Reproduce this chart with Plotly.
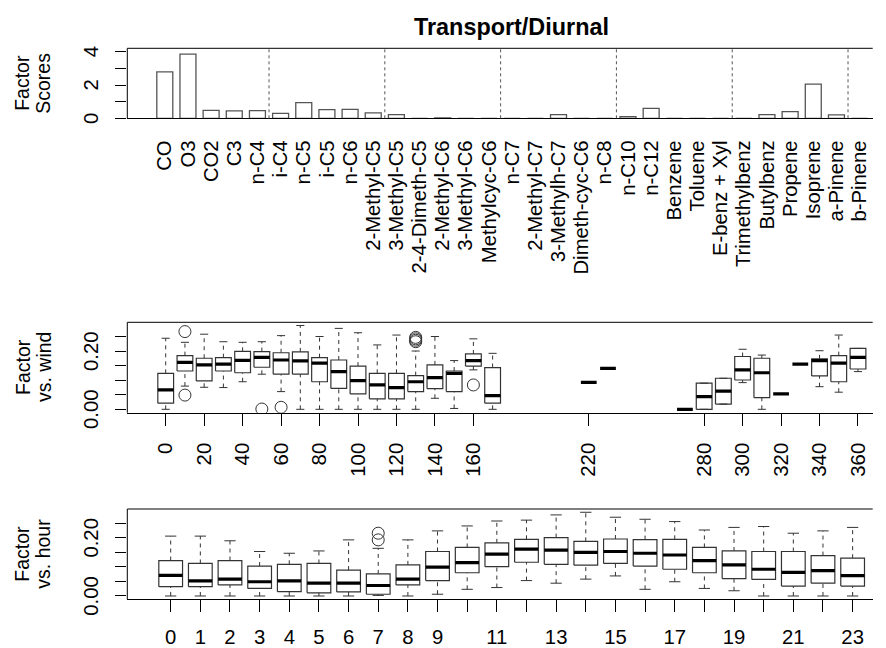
import plotly.graph_objects as go

FONT = "Liberation Sans, Arial, sans-serif"
FS = 19.5
TICK_FS = 20.3

# ---------------- factor scores per species ----------------
species = ["CO", "O3", "CO2", "C3", "n-C4", "i-C4", "n-C5", "i-C5", "n-C6",
           "2-Methyl-C5", "3-Methyl-C5", "2-4-Dimeth-C5", "2-Methyl-C6",
           "3-Methyl-C6", "Methylcyc-C6", "n-C7", "2-Methyl-C7", "3-Methylh-C7",
           "Dimeth-cyc-C6", "n-C8", "n-C10", "n-C12", "Benzene", "Toluene",
           "E-benz + Xyl", "Trimethylbenz", "Butylbenz", "Propene", "Isoprene",
           "a-Pinene", "b-Pinene"]
factor_scores = [2.79, 3.86, 0.48, 0.44, 0.46, 0.30, 0.94, 0.52, 0.54, 0.32,
                 0.22, 0.00, 0.03, 0.00, 0.00, 0.00, 0.00, 0.22, 0.00, 0.00,
                 0.10, 0.60, 0.00, 0.00, 0.00, 0.00, 0.22, 0.40, 2.05, 0.20,
                 0.00]
group_sizes = [5, 5, 5, 5, 5, 5, 1]

# ---------------- factor vs. wind direction ----------------
wind_dir = [0, 10, 20, 30, 40, 50, 60, 70, 80, 90, 100, 110, 120, 130, 140,
            150, 160, 170, 220, 230, 270, 280, 290, 300, 310, 320, 330, 340,
            350, 360]
wind_low = [0.000, 0.080, 0.076, 0.075, 0.095, 0.121, 0.061, 0.000, 0.000,
            0.000, 0.000, 0.000, 0.000, 0.000, 0.038, 0.003, 0.136, 0.000,
            0.093, 0.141, 0.000, 0.000, 0.018, 0.092, 0.000, 0.053, 0.156,
            0.078, 0.059, 0.130]
wind_q1 = [0.021, 0.132, 0.098, 0.132, 0.126, 0.145, 0.121, 0.121, 0.095,
           0.072, 0.053, 0.036, 0.036, 0.061, 0.071, 0.061, 0.149, 0.021,
           0.093, 0.141, 0.000, 0.000, 0.018, 0.101, 0.040, 0.053, 0.156,
           0.115, 0.095, 0.139]
wind_med = [0.067, 0.162, 0.153, 0.156, 0.169, 0.179, 0.170, 0.167, 0.159,
            0.130, 0.099, 0.084, 0.075, 0.095, 0.109, 0.124, 0.168, 0.047,
            0.093, 0.141, 0.000, 0.044, 0.063, 0.136, 0.126, 0.053, 0.156,
            0.168, 0.159, 0.179]
wind_q3 = [0.124, 0.185, 0.176, 0.178, 0.200, 0.199, 0.195, 0.198, 0.178,
           0.170, 0.149, 0.124, 0.124, 0.116, 0.153, 0.132, 0.191, 0.144,
           0.093, 0.141, 0.000, 0.090, 0.107, 0.182, 0.176, 0.053, 0.156,
           0.174, 0.185, 0.210]
wind_high = [0.245, 0.231, 0.259, 0.233, 0.231, 0.233, 0.254, 0.289, 0.251,
             0.279, 0.264, 0.222, 0.256, 0.201, 0.251, 0.168, 0.243, 0.193,
             0.093, 0.141, 0.000, 0.090, 0.107, 0.207, 0.187, 0.053, 0.156,
             0.202, 0.256, 0.210]
wind_out_dir = [10, 10, 50, 60, 130, 130, 130, 130, 160]
wind_out_val = [0.268, 0.049, 0.001, 0.007, 0.233, 0.238, 0.243, 0.248, 0.084]

# ---------------- factor vs. hour of day ----------------
hours = list(range(24))
hour_low = [0.000, 0.000, 0.000, 0.000, 0.000, 0.000, 0.000, 0.002, 0.000,
            0.006, 0.023, 0.029, 0.053, 0.044, 0.058, 0.069, 0.023, 0.049,
            0.026, 0.018, 0.000, 0.000, 0.000, 0.000]
hour_q1 = [0.032, 0.032, 0.038, 0.026, 0.015, 0.011, 0.014, 0.006, 0.038,
           0.053, 0.080, 0.101, 0.116, 0.109, 0.106, 0.112, 0.103, 0.092,
           0.080, 0.060, 0.057, 0.034, 0.044, 0.034]
hour_med = [0.071, 0.052, 0.058, 0.049, 0.052, 0.044, 0.044, 0.036, 0.058,
            0.099, 0.115, 0.144, 0.161, 0.158, 0.150, 0.153, 0.147, 0.141,
            0.122, 0.107, 0.092, 0.081, 0.087, 0.070]
hour_q3 = [0.122, 0.112, 0.122, 0.103, 0.109, 0.112, 0.089, 0.076, 0.107,
           0.153, 0.167, 0.183, 0.195, 0.201, 0.188, 0.196, 0.194, 0.195,
           0.167, 0.155, 0.153, 0.153, 0.139, 0.130]
hour_high = [0.206, 0.206, 0.190, 0.153, 0.147, 0.155, 0.193, 0.164, 0.193,
             0.224, 0.241, 0.258, 0.261, 0.279, 0.288, 0.271, 0.264, 0.256,
             0.227, 0.236, 0.239, 0.216, 0.224, 0.236]
hour_out_x = [7, 7]
hour_out_val = [0.193, 0.216]
hour_labels = [str(h) if (h < 10 or h % 2 == 1) else "" for h in hours]

BOX_COL = "#333333"


def box_traces(pos, low, q1, med, q3, high, half, cap, xa, ya):
    """R-style boxplot drawn from summary statistics."""
    bx, by, mx, my, wx, wy, cx, cy = [], [], [], [], [], [], [], []
    for p, lo, a, m, b, hi in zip(pos, low, q1, med, q3, high):
        if b > a:
            bx += [p - half, p + half, p + half, p - half, p - half, None]
            by += [a, a, b, b, a, None]
        mx += [p - half, p + half, None]
        my += [m, m, None]
        if hi > b:
            wx += [p, p, None]
            wy += [b, hi, None]
        if lo < a:
            wx += [p, p, None]
            wy += [lo, a, None]
        if b > a:
            cx += [p - cap, p + cap, None, p - cap, p + cap, None]
            cy += [hi, hi, None, lo, lo, None]
    common = dict(xaxis=xa, yaxis=ya, mode="lines", showlegend=False,
                  hoverinfo="skip")
    return [
        go.Scatter(x=wx, y=wy, line=dict(color=BOX_COL, width=1, dash="4px,4px"), **common),
        go.Scatter(x=cx, y=cy, line=dict(color=BOX_COL, width=1), **common),
        go.Scatter(x=bx, y=by, line=dict(color=BOX_COL, width=1.2), **common),
        go.Scatter(x=mx, y=my, line=dict(color="black", width=3.2), **common),
    ]


def outlier_trace(x, y, xa, ya):
    return go.Scatter(x=x, y=y, xaxis=xa, yaxis=ya, mode="markers",
                      showlegend=False, hoverinfo="skip",
                      marker=dict(symbol="circle-open", size=12,
                                  color=BOX_COL, line=dict(width=1)))


fig = go.Figure()

# top panel: bars
fig.add_trace(go.Bar(x=list(range(len(species))), y=factor_scores,
                     width=0.69, xaxis="x", yaxis="y", showlegend=False,
                     marker=dict(color="white", line=dict(color="#555555", width=1.3))))

# middle panel: wind boxes
for t in box_traces(wind_dir, wind_low, wind_q1, wind_med, wind_q3, wind_high,
                    4.1, 2.1, "x2", "y2"):
    fig.add_trace(t)
fig.add_trace(outlier_trace(wind_out_dir, wind_out_val, "x2", "y2"))

# bottom panel: hourly boxes
for t in box_traces(hours, hour_low, hour_q1, hour_med, hour_q3, hour_high,
                    0.40, 0.19, "x3", "y3"):
    fig.add_trace(t)
fig.add_trace(outlier_trace(hour_out_x, hour_out_val, "x3", "y3"))

# dotted separators between species groups
edge = -0.5
for g in group_sizes[:-1]:
    edge += g
    fig.add_shape(type="line", xref="x", yref="y domain", x0=edge, x1=edge,
                  y0=0, y1=1, line=dict(color="#555555", width=1, dash="dot"))

# open frame (left, top) around each panel; the x axis line closes the bottom
for xs, ys in [("x", "y"), ("x2", "y2"), ("x3", "y3")]:
    frame = dict(color="black", width=1)
    fig.add_shape(type="line", xref=f"{xs} domain", yref=f"{ys} domain",
                  x0=0, x1=0, y0=0, y1=1, line=frame)
    fig.add_shape(type="line", xref=f"{xs} domain", yref=f"{ys} domain",
                  x0=0, x1=1, y0=1, y1=1, line=frame)

W, H = 886, 648
left = 127.3 / W
right = 0.985
xspan = (886 * right - 127.3)

ax_common = dict(showgrid=False, zeroline=False, automargin=False,
                 linecolor="black", linewidth=1, tickcolor="black",
                 tickfont=dict(family=FONT, size=TICK_FS, color="black"))
x_common = dict(showline=True, mirror=False, **ax_common)
y_common = dict(showline=False, mirror=False, ticks="outside", ticklen=11,
                tickangle=-90, ticklabelstandoff=9, ticklabelshift=3,
                **ax_common)

fig.update_layout(
    width=W, height=H,
    margin=dict(l=0, r=0, t=0, b=0, autoexpand=False),
    paper_bgcolor="white", plot_bgcolor="white",
    font=dict(family=FONT, size=FS, color="black"),
    bargap=0.31,
    xaxis=dict(domain=[left, right],
               range=[-1.619, -1.619 + xspan / 23.16], tickmode="array",
               tickvals=list(range(len(species))), ticktext=species,
               tickangle=-90, ticks="", anchor="y",
               ticklabelstandoff=13, **x_common),
    yaxis=dict(domain=[1 - 118.3 / H, 1 - 48.3 / H], range=[0, 4.204],
               tickmode="array", tickvals=[0, 1, 2, 3, 4],
               ticktext=["0", "", "2", "", "4"], anchor="x", **y_common),
    xaxis2=dict(domain=[left, right],
                range=[-19.97, -19.97 + xspan / 1.923], tickmode="array",
                tickvals=[d for d in wind_dir if d % 20 == 0],
                ticktext=[str(d) for d in wind_dir if d % 20 == 0],
                tickangle=-90, ticks="outside", ticklen=12,
                anchor="y2", ticklabelstandoff=9, **x_common),
    yaxis2=dict(domain=[1 - 412.7 / H, 1 - 322.3 / H], range=[-0.0117, 0.300],
                tickmode="array", tickvals=[0, 0.05, 0.10, 0.15, 0.20, 0.25],
                ticktext=["0.00", "", "", "", "0.20", ""], anchor="x2",
                **y_common),
    xaxis3=dict(domain=[left, right],
                range=[-1.463, -1.463 + xspan / 29.65], tickmode="array",
                tickvals=hours, ticktext=hour_labels, tickangle=0,
                ticks="outside", ticklen=12, anchor="y3",
                ticklabelstandoff=7, **x_common),
    yaxis3=dict(domain=[1 - 599.3 / H, 1 - 509 / H], range=[-0.0114, 0.2993],
                tickmode="array", tickvals=[0, 0.05, 0.10, 0.15, 0.20, 0.25],
                ticktext=["0.00", "", "", "", "0.20", ""], anchor="x3",
                **y_common),
)

# title and panel labels
fig.add_annotation(text="<b>Transport/Diurnal</b>", xref="paper", yref="paper",
                   x=511.5 / W, y=1 - 26.7 / H, showarrow=False,
                   xanchor="center", yanchor="middle",
                   font=dict(family=FONT, size=23.4, color="black"))

for (l1, l2), yc in [(("Factor", "Scores"), 83.3),
                     (("Factor", "vs. wind"), 367.5),
                     (("Factor", "vs. hour"), 554.2)]:
    for txt, xc in [(l1, 22.5), (l2, 43.5)]:
        fig.add_annotation(text=txt, xref="paper", yref="paper",
                           x=xc / W, y=1 - yc / H, showarrow=False,
                           textangle=-90, xanchor="center", yanchor="middle",
                           font=dict(family=FONT, size=FS, color="black"))

fig.write_html("out.html")
